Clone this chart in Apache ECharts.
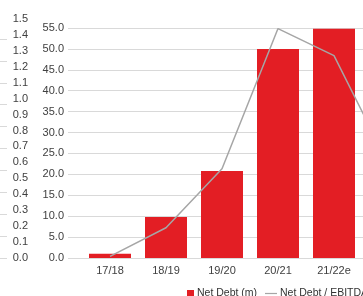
<!DOCTYPE html>
<html>
<head>
<meta charset="utf-8">
<script src="https://cdn.jsdelivr.net/npm/echarts@6/dist/echarts.min.js"></script>
<style>
  html, body { margin: 0; padding: 0; background: #fff; }
  #main { width: 363px; height: 296px; }
</style>
</head>
<body>
<div id="main"></div>
<script>
// categories (last one is cut off at the right edge)
var years = ['17/18', '18/19', '19/20', '20/21', '21/22e', '22/23e'];
// net debt, left bar axis
var netDebt = [1.0, 9.8, 20.8, 50.0, 54.8, '-'];
// net debt / ebitda, second axis
var debtRatio = [0.01, 0.19, 0.56, 1.44, 1.27, 0.57];

var debtTicks = { min: 0, max: 55, interval: 5 };
var ratioTicks = { min: 0, max: 1.5, interval: 0.1 };

var red = '#e31e24';
var grey = '#a6a6a6';
var gridGrey = '#d9d9d9';
var font = 'Liberation Sans, Arial, sans-serif';

var chart = echarts.init(document.getElementById('main'));
chart.setOption({
  animation: false,
  textStyle: { fontFamily: font },
  grid: [
    // gridlines + bar axis labels
    { left: 68, right: 0, top: 28, bottom: 38, outerBoundsMode: 'none' },
    // bars (6 bands of 56px, last one past the edge)
    { left: 82, width: 336, top: 28, bottom: 38, outerBoundsMode: 'none' },
    // ratio line
    { left: 82, width: 336, top: 19, bottom: 38, outerBoundsMode: 'none' },
    // cut-off neighbour chart at far left
    { left: -50, width: 57, top: 39, bottom: 38, outerBoundsMode: 'none' }
  ],
  xAxis: [
    { gridIndex: 0, type: 'value', min: 0, max: 1, show: false },
    {
      gridIndex: 1, type: 'category', data: years,
      axisLine: { show: false }, axisTick: { show: false },
      axisLabel: { color: '#404040', fontSize: 11, margin: 7, fontFamily: font }
    },
    { gridIndex: 2, type: 'category', data: years, show: false },
    { gridIndex: 3, type: 'value', min: 0, max: 1, show: false }
  ],
  yAxis: [
    {
      gridIndex: 0, type: 'value', min: debtTicks.min, max: debtTicks.max, interval: debtTicks.interval,
      axisLine: { show: false }, axisTick: { show: false },
      axisLabel: { color: '#404040', fontSize: 11, margin: 4, fontFamily: font,
        formatter: function (v) { return v.toFixed(1); } },
      splitLine: { lineStyle: { color: gridGrey, width: 1 } }
    },
    { gridIndex: 1, type: 'value', min: debtTicks.min, max: debtTicks.max, show: false },
    {
      gridIndex: 2, type: 'value', min: ratioTicks.min, max: ratioTicks.max, interval: ratioTicks.interval,
      axisLine: { show: false }, axisTick: { show: false }, splitLine: { show: false },
      axisLabel: { color: '#404040', fontSize: 11, margin: 54, fontFamily: font,
        formatter: function (v) { return v.toFixed(1); } }
    },
    {
      gridIndex: 3, type: 'value', min: 0, max: 10, interval: 1,
      axisLine: { show: false }, axisTick: { show: false }, axisLabel: { show: false },
      splitLine: { lineStyle: { color: gridGrey, width: 1 } }
    }
  ],
  legend: [
    {
      left: 187, top: 288, padding: 0, itemWidth: 7, itemHeight: 7, icon: 'rect',
      data: ['Net Debt (m)'],
      textStyle: { color: '#333', fontSize: 10.5, fontFamily: font, padding: [0, 0, 0, -2] }
    },
    {
      left: 265, top: 288, padding: 0, itemWidth: 12, itemHeight: 7,
      icon: 'path://M0,3h12v1.2h-12z',
      data: ['Net Debt / EBITDA'],
      textStyle: { color: '#333', fontSize: 10.5, fontFamily: font, padding: [0, 0, 0, -2] }
    }
  ],
  series: [
    {
      name: 'Net Debt (m)', type: 'bar', xAxisIndex: 1, yAxisIndex: 1,
      data: netDebt, barWidth: 42, itemStyle: { color: red }
    },
    {
      name: 'Net Debt / EBITDA', type: 'line', xAxisIndex: 2, yAxisIndex: 2,
      data: debtRatio, showSymbol: false, symbol: 'none',
      lineStyle: { color: grey, width: 1.5 }, itemStyle: { color: grey }
    }
  ]
});
</script>
</body>
</html>
